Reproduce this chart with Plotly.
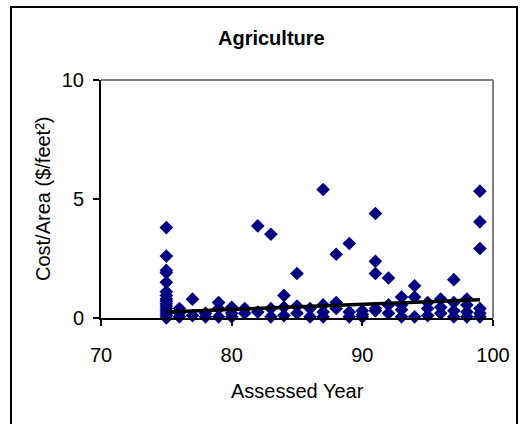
import plotly.graph_objects as go

# Data (assessed year, cost per area)
year_75 = [75] * 16
cost_75 = [3.8, 2.6, 2.0, 1.9, 1.5, 1.1, 0.95, 0.7, 0.5, 0.3, 0.1, 0.0, 0.2, 0.4, 0.6, 0.8]

years = [76, 76, 76, 77, 77, 78, 78, 79, 79, 79, 80, 80, 80, 81, 81, 82, 82,
         83, 83, 83, 84, 84, 84, 85, 85, 85, 86, 86, 87, 87, 87, 87,
         88, 88, 88, 89, 89, 89, 90, 90, 90, 91, 91, 91, 91, 91, 92, 92, 92,
         93, 93, 93, 93, 94, 94, 94, 95, 95, 95, 96, 96, 96,
         97, 97, 97, 97, 98, 98, 98, 98, 99, 99, 99, 99, 99, 99]
costs = [0.4, 0.2, 0.05, 0.79, 0.1, 0.2, 0.05, 0.65, 0.4, 0.05, 0.45, 0.2, 0.05, 0.4, 0.2, 3.87, 0.25,
         3.52, 0.4, 0.05, 0.95, 0.45, 0.1, 1.87, 0.5, 0.2, 0.4, 0.05, 5.4, 0.55, 0.25, 0.05,
         2.68, 0.65, 0.4, 3.13, 0.25, 0.05, 0.3, 0.15, 0.05, 4.39, 2.38, 1.87, 0.4, 0.3, 1.68, 0.55, 0.2,
         0.88, 0.55, 0.35, 0.05, 1.35, 0.88, 0.05, 0.65, 0.4, 0.1, 0.8, 0.45, 0.2,
         1.61, 0.65, 0.3, 0.05, 0.8, 0.55, 0.25, 0.05, 5.33, 4.04, 2.92, 0.4, 0.2, 0.05]

trend_x = [75, 99]
trend_y = [0.25, 0.77]

x_ticks = [70, 80, 90, 100]
y_ticks = [0, 5, 10]

FONT = "Liberation Sans, Arial, sans-serif"

fig = go.Figure()
fig.add_trace(go.Scatter(
    x=year_75 + years, y=cost_75 + costs, mode="markers",
    marker=dict(symbol="diamond", size=10.5, color="#000080", line=dict(width=0)),
    cliponaxis=False, showlegend=False))
fig.add_trace(go.Scatter(
    x=trend_x, y=trend_y, mode="lines",
    line=dict(color="black", width=3.5), cliponaxis=False, showlegend=False))

fig.update_layout(
    width=523, height=424,
    margin=dict(l=101, r=30, t=80, b=106),
    paper_bgcolor="white", plot_bgcolor="white",
    font=dict(family=FONT, size=20, color="black"),
    xaxis=dict(range=[70, 100], tickvals=x_ticks, showgrid=False, zeroline=False,
               showline=True, linecolor="black", linewidth=2,
               ticks="outside", ticklen=6, tickwidth=2, tickcolor="black",
               ticklabelstandoff=12, tickfont=dict(size=20)),
    yaxis=dict(range=[0, 10], tickvals=y_ticks, showgrid=False, zeroline=False,
               showline=True, linecolor="black", linewidth=2,
               ticks="outside", ticklen=6, tickwidth=2, tickcolor="black",
               ticklabelstandoff=5, tickfont=dict(size=20)),
    shapes=[
        dict(type="line", xref="paper", yref="paper", x0=0, x1=1, y0=1, y1=1,
             line=dict(color="#808080", width=2)),
        dict(type="line", xref="paper", yref="paper", x0=1, x1=1, y0=0, y1=1,
             line=dict(color="#808080", width=2)),
        dict(type="rect", xref="paper", yref="paper",
             x0=(11 - 101) / 392, x1=(517 - 101) / 392,
             y0=(318 - 430) / 238, y1=(318 - 7) / 238,
             line=dict(color="black", width=2)),
    ],
    annotations=[
        dict(text="<b>Agriculture</b>", xref="paper", yref="paper",
             x=(271 - 101) / 392, y=(318 - 38) / 238, xanchor="center", yanchor="middle",
             showarrow=False, font=dict(size=20)),
        dict(text="Assessed Year", xref="paper", yref="paper",
             x=0.5, y=(318 - 391) / 238, xanchor="center", yanchor="middle",
             showarrow=False, font=dict(size=20)),
        dict(text="Cost/Area ($/feet²)", xref="paper", yref="paper",
             x=(43 - 101) / 392, y=0.5, xanchor="center", yanchor="middle",
             textangle=-90, showarrow=False, font=dict(size=20)),
    ],
)

fig.write_html("out.html")
